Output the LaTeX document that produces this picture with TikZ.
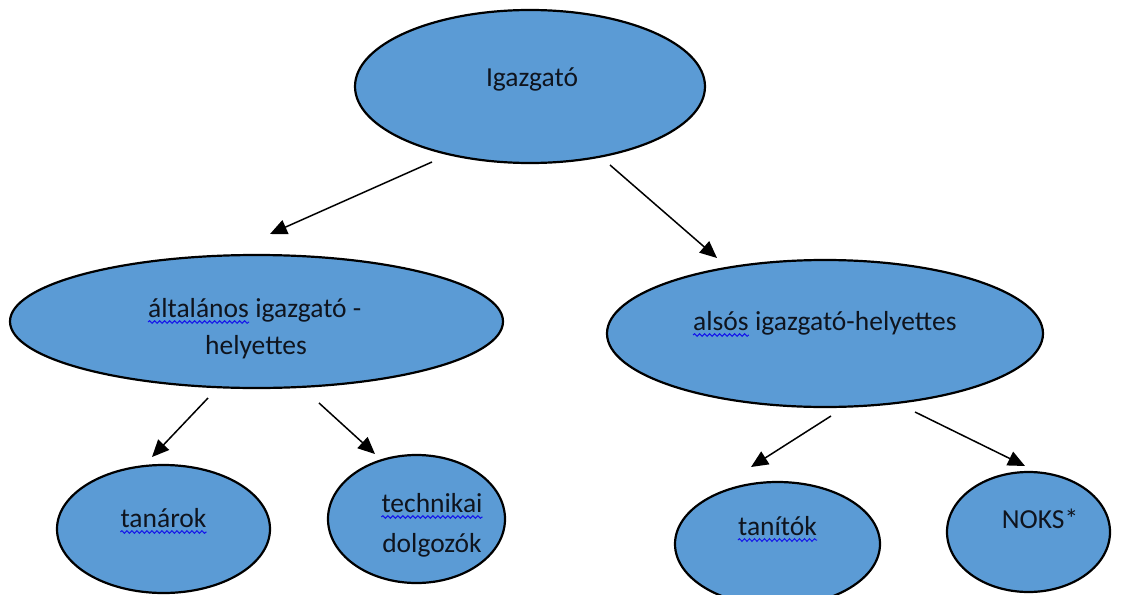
\documentclass[tikz,border=0pt]{standalone}
\usepackage{fontspec}
\setmainfont{Carlito}
\usetikzlibrary{shapes.geometric,arrows.meta,decorations.pathmorphing}
\definecolor{officeblue}{RGB}{91,155,213}
\definecolor{squigblue}{RGB}{20,20,235}
\definecolor{inktext}{RGB}{15,20,30}
\begin{document}
\begin{tikzpicture}[x=1pt,y=-1pt,
  oval/.style={ellipse, draw=black, line width=2.2pt, fill=officeblue, inner sep=0pt},
  txt/.style={inner sep=0pt, font=\fontsize{27.5}{33}\selectfont, text=inktext},
  conn/.style={line width=1.5pt, -{Triangle[length=17pt,width=15pt]}},
  squig/.style={draw=squigblue, line width=1pt, decorate,
    decoration={snake, segment length=5pt, amplitude=1.3pt}}]
\clip (0,0) rectangle (1121,594);
\fill[white] (0,0) rectangle (1121,594);
% ellipses
\node[oval, minimum width=350pt, minimum height=153pt] (igaz) at (530,86.5) {};
\node[oval, minimum width=493pt, minimum height=133pt] (alt) at (256.5,321.5) {};
\node[oval, minimum width=436pt, minimum height=147pt] (als) at (825,333.5) {};
\node[oval, minimum width=213pt, minimum height=128pt] (tan) at (163.5,529) {};
\node[oval, minimum width=177pt, minimum height=128pt] (tech) at (416.5,519) {};
\node[oval, minimum width=205pt, minimum height=124pt] (tanit) at (777.5,544) {};
\node[oval, minimum width=163pt, minimum height=120pt] (noks) at (1028.5,532) {};
% texts
\node[txt, anchor=base] (tIgaz) at (532,86) {Igazgató};
\node[txt, anchor=base west] (tAlt) at (148,317) {általános};
\node[txt, anchor=base west] (tAlt2) at ([xshift=6pt]tAlt.base east) {igazgató -};
\node[txt, anchor=base] (tHely) at (256,354) {helyettes};
\node[txt, anchor=base west] (tAls) at (693,330) {alsós};
\node[txt, anchor=base west] (tAls2) at ([xshift=6pt]tAls.base east) {igazgató-helyettes};
\node[txt, anchor=base] (tTan) at (163.5,527) {tanárok};
\node[txt, anchor=base] (tTech) at (432,512) {technikai};
\node[txt, anchor=base] (tDolg) at (432,552) {dolgozók};
\node[txt, anchor=base] (tTanit) at (777.5,535) {tanítók};
\node[txt, anchor=base] (tNoks) at (1040,528) {NOKS*};
% spell-check squiggles
\foreach \w in {tAlt,tAls,tTan,tTech,tTanit}
  \draw[squig] ([yshift=-5pt]\w.base west) -- ([yshift=-5pt]\w.base east);
% connectors
\coordinate (a1s) at (432,162); \coordinate (a1e) at (270,234);
\coordinate (a2s) at (610,165); \coordinate (a2e) at (717,258);
\coordinate (a3s) at (208,398); \coordinate (a3e) at (152,457);
\coordinate (a4s) at (319,403); \coordinate (a4e) at (375,454);
\coordinate (a5s) at (831,416); \coordinate (a5e) at (751,467);
\coordinate (a6s) at (915,412); \coordinate (a6e) at (1025,466);
\draw[conn] (a1s) -- (a1e);
\draw[conn] (a2s) -- (a2e);
\draw[conn] (a3s) -- (a3e);
\draw[conn] (a4s) -- (a4e);
\draw[conn] (a5s) -- (a5e);
\draw[conn] (a6s) -- (a6e);
\end{tikzpicture}
\end{document}
